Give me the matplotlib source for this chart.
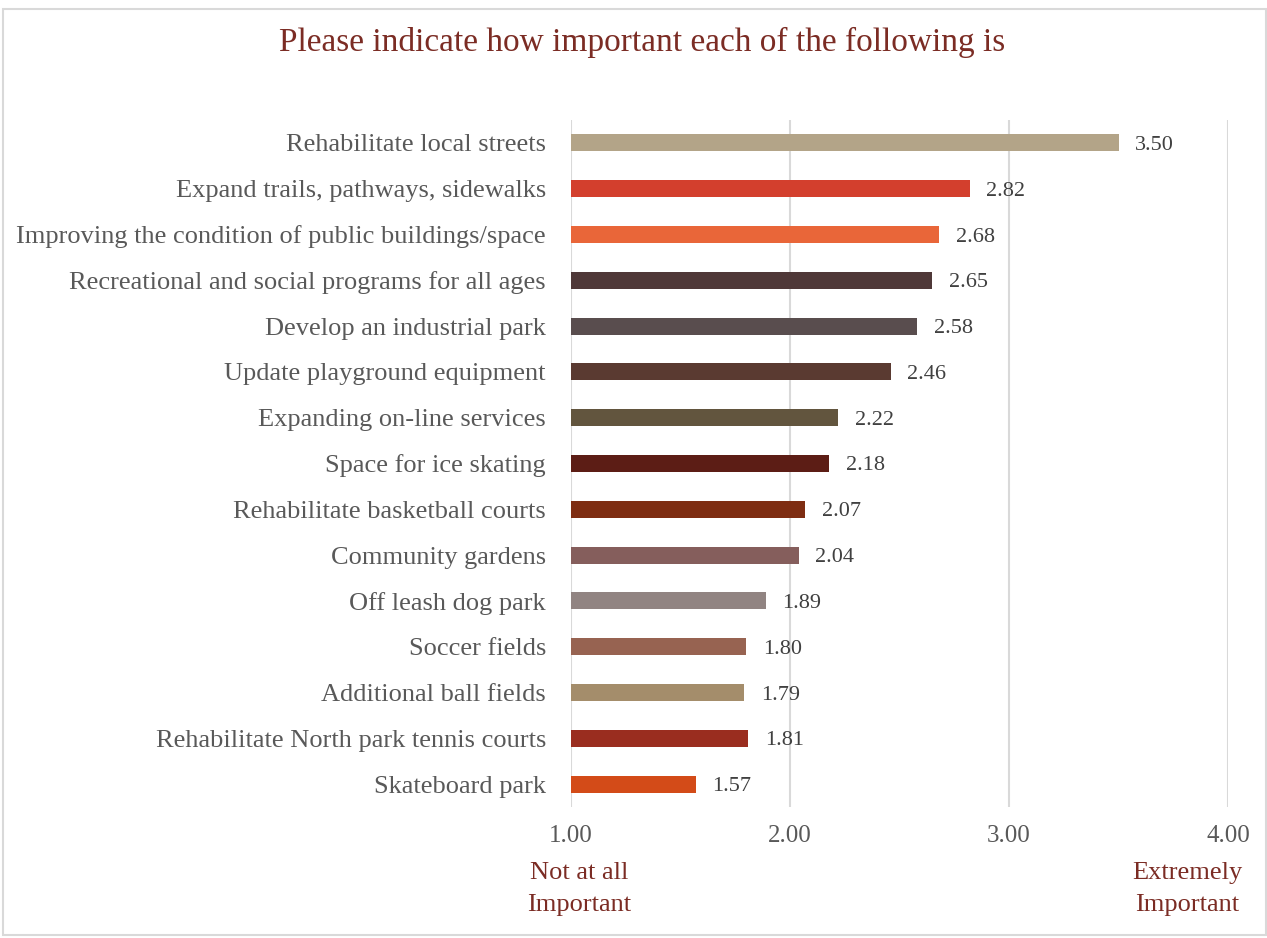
import matplotlib
matplotlib.use("Agg")
import matplotlib.pyplot as plt
from matplotlib.patches import Rectangle

categories = [
    "Rehabilitate local streets",
    "Expand trails, pathways, sidewalks",
    "Improving the condition of public buildings/space",
    "Recreational and social programs for all ages",
    "Develop an industrial park",
    "Update playground equipment",
    "Expanding on-line services",
    "Space for ice skating",
    "Rehabilitate basketball courts",
    "Community gardens",
    "Off leash dog park",
    "Soccer fields",
    "Additional ball fields",
    "Rehabilitate North park tennis courts",
    "Skateboard park",
]
scores = [3.50, 2.82, 2.68, 2.65, 2.58, 2.46, 2.22, 2.18, 2.07, 2.04, 1.89, 1.80, 1.79, 1.81, 1.57]
bar_colors = [
    "#B3A488", "#D33F2D", "#E96639", "#4F3838", "#594D4E",
    "#5A3A31", "#62553E", "#5C1D15", "#7E2D12", "#855E5C",
    "#918482", "#976351", "#A48D6B", "#9A2D1F", "#D34B18",
]
x_ticks = [1.0, 2.0, 3.0, 4.0]
title = "Please indicate how important each of the following is"
low_label = "Not at all\nImportant"
high_label = "Extremely\nImportant"

serif = ["Liberation Serif", "DejaVu Serif"]
red = "#7B2C24"
W, H = 1267, 938
fig = plt.figure(figsize=(W / 100, H / 100), dpi=100)

# light frame around the chart area
fig.patches.append(Rectangle((3 / W, 3 / H), 1 - 4 / W, 1 - 12 / H, transform=fig.transFigure,
                             fill=False, edgecolor="#D9D9D9", linewidth=1.5))

ax = fig.add_axes([571 / W, 1 - 807 / H, (1228 - 571) / W, (807 - 120) / H])
y = list(range(len(categories)))
ax.barh(y, [s - 1.0 for s in scores], left=1.0, height=0.37, color=bar_colors, zorder=3)
ax.set_xlim(1.0, 4.0)
ax.set_ylim(len(categories) - 0.5, -0.5)
ax.set_xticks(x_ticks)
ax.set_xticklabels([f"{t:.2f}" for t in x_ticks], family=serif, fontsize=18, color="#595959")
ax.set_yticks(y)
ax.set_yticklabels(categories, family=serif, fontsize=19, color="#595959")
ax.tick_params(axis="both", length=0)
ax.tick_params(axis="y", pad=18)
ax.tick_params(axis="x", pad=13)
ax.grid(axis="x", color="#D9D9D9", linewidth=1.5, zorder=0)
for s in ax.spines.values():
    s.set_visible(False)

for yi, v in zip(y, scores):
    ax.annotate(f"{v:.2f}", (v, yi), xytext=(12, 0), textcoords="offset points",
                ha="left", va="center_baseline", family=serif, fontsize=16, color="#404040")

fig.text(642 / W, 1 - 42 / H, title, ha="center", va="center", family=serif, fontsize=24, color=red)
fig.text(579 / W, 1 - 889 / H, low_label, ha="center", va="center", family=serif,
         fontsize=19, color=red, linespacing=1.55)
fig.text(1187 / W, 1 - 889 / H, high_label, ha="center", va="center", family=serif,
         fontsize=19, color=red, linespacing=1.55)

fig.savefig("out.png", dpi=100)
